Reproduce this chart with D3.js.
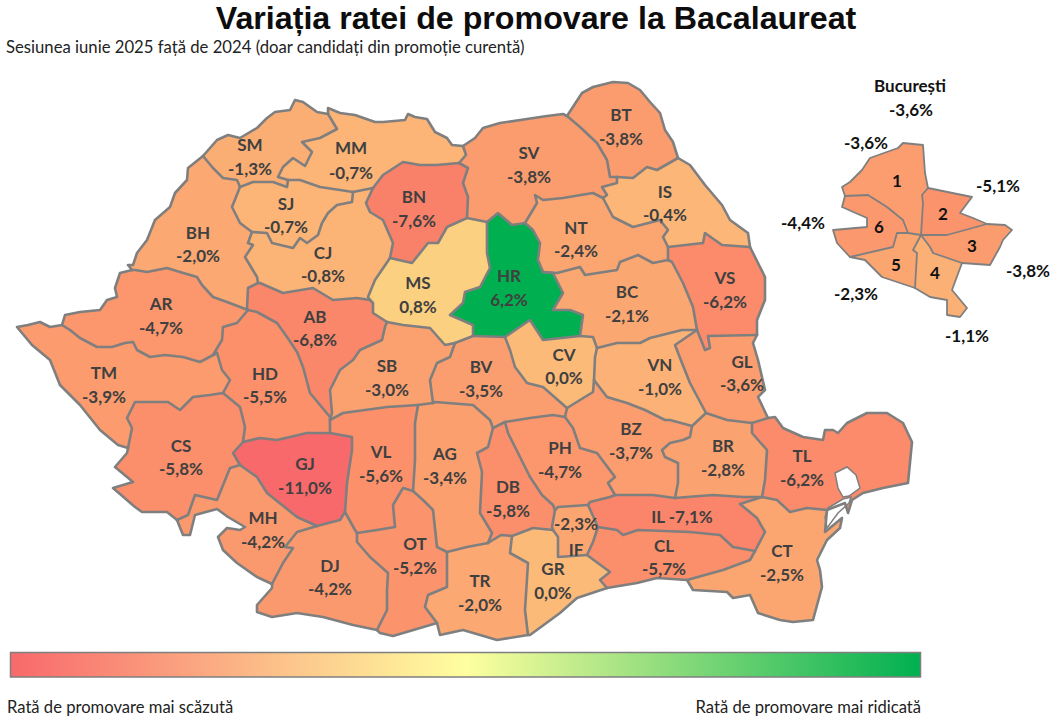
<!DOCTYPE html>
<html lang="ro">
<head>
<meta charset="utf-8">
<title>Variația ratei de promovare la Bacalaureat</title>
<script src="https://cdn.jsdelivr.net/npm/d3@7"></script>
<style>
  html, body { margin: 0; padding: 0; background: #fff; }
  svg { display: block; }
  text { font-family: Lato, "Open Sans", sans-serif; }
</style>
</head>
<body>
<svg id="chart" width="1058" height="723"></svg>
<script>
// valorile judetelor (variatie in puncte procentuale)
const countyCodes = ["SM","MM","BN","SV","BT","IS","NT","SJ","CJ","BH","AR","AB","MS","HR","VS","BC","SB","BV","CV","VN","GL","TM","HD","CS","GJ","VL","AG","PH","DB","BZ","BR","TL","MH","DJ","OT","TR","GR","IF","IL","CL","CT"];
const countyValues = [-1.3,-0.7,-7.6,-3.8,-3.8,-0.4,-2.4,-0.7,-0.8,-2.0,-4.7,-6.8,0.8,6.2,-6.2,-2.1,-3.0,-3.5,0.0,-1.0,-3.6,-3.9,-5.5,-5.8,-11.0,-5.6,-3.4,-4.7,-5.8,-3.7,-2.8,-6.2,-4.2,-4.2,-5.2,-2.0,0.0,-2.3,-7.1,-5.7,-2.5];

// sectoarele Bucurestiului
const sectorNames = ["1","2","3","4","5","6"];
const sectorValues = [-3.6,-5.1,-3.8,-1.1,-2.3,-4.4];
const bucharestValue = -3.6;

// scala de culori (citita din harta)
const colorDomain = [-11,-7.6,-5,-2,0,0.8,3,6.2];
const colorRange = ["#f8696b","#fa8169","#fb946c","#fba872","#fcba79","#fbd081","#a8d080","#00b050"];

// texte
const titleText = "Variația ratei de promovare la Bacalaureat";
const subtitleText = "Sesiunea iunie 2025 față de 2024 (doar candidați din promoție curentă)";
const legendLow = "Rată de promovare mai scăzută";
const legendHigh = "Rată de promovare mai ridicată";

// granite comune (trasate dupa imagine), ca intr-o topologie
const arcs = {
  SM_out: [[203,156],[217,140],[228,135],[240,138],[257,128],[267,118],[275,112],[290,110],[295,100],[303,102],[317,112],[328,114]],
  SM_MM: [[328,114],[337,129],[320,138],[302,142],[312,152],[305,166],[293,158],[283,167],[278,177],[288,180]],
  SM_SJ: [[288,180],[287,187],[273,182],[253,182],[240,187]],
  SM_BH: [[240,187],[237,180],[223,178],[213,168],[203,156]],
  MM_out: [[328,114],[328,108],[340,113],[355,115],[375,122],[383,122],[405,120],[408,114],[415,117],[427,119],[435,132],[447,138],[452,145],[463,146]],
  MM_SV: [[463,146],[466,155],[459,163]],
  MM_BN: [[459,163],[437,165],[420,165],[403,162],[383,175],[373,188]],
  MM_CJ: [[373,188],[353,192]],
  MM_SJ: [[288,180],[300,180],[320,187],[340,190],[353,192]],
  BN_SV: [[459,163],[468,168],[463,183],[468,197],[467,218]],
  BN_MS: [[467,218],[447,227],[438,243],[428,243],[412,263],[390,258]],
  BN_CJ: [[390,258],[393,243],[383,220],[370,212],[366,203],[373,188]],
  SJ_CJ: [[353,192],[352,202],[337,205],[328,213],[322,223],[318,235],[307,243],[300,238],[293,248],[272,243],[267,233],[252,232]],
  SJ_BH: [[252,232],[240,223],[232,207],[240,187]],
  CJ_MS: [[390,258],[375,280],[368,297],[370,300]],
  AB_CJ: [[370,300],[357,298],[333,300],[313,288],[283,293],[260,283],[258,283]],
  BH_CJ: [[258,283],[257,277],[245,257],[253,245],[248,243],[252,232]],
  AB_BH: [[258,283],[248,288],[247,308],[248,310]],
  AR_BH: [[248,310],[227,302],[213,297],[202,285],[197,277],[180,272],[167,268],[147,272],[135,270],[132,270]],
  BH_out: [[132,270],[128,265],[133,265],[137,253],[147,240],[155,220],[170,207],[175,193],[187,180],[188,168],[203,156]],
  AR_HD: [[248,310],[237,323],[223,327],[222,340],[213,355],[217,353]],
  AR_TM: [[217,353],[200,362],[183,357],[165,355],[150,357],[137,350],[133,342],[125,343],[112,347],[97,347],[80,338],[70,330],[62,325]],
  AR_out: [[62,325],[65,315],[80,312],[100,310],[107,300],[117,297],[115,288],[120,273],[132,270]],
  TM_HD: [[217,353],[222,370],[230,380],[223,393]],
  CS_TM: [[223,393],[210,395],[193,397],[180,410],[168,402],[150,402],[135,402],[127,418],[132,428],[128,448]],
  TM_out: [[128,448],[118,445],[100,430],[80,405],[60,385],[50,360],[32,345],[17,327],[28,325],[40,322],[50,327],[62,325]],
  AB_HD: [[248,310],[257,312],[277,323],[287,337],[297,352],[303,367],[310,393],[330,417],[330,420]],
  HD_VL: [[330,420],[330,433]],
  GJ_HD: [[330,433],[307,433],[277,440],[260,438],[243,442]],
  CS_HD: [[243,442],[245,427],[240,407],[223,393]],
  CS_GJ: [[243,442],[233,453],[240,465]],
  CS_MH: [[240,465],[230,468],[217,500],[195,495],[188,515],[177,520]],
  CS_out: [[177,520],[167,512],[142,512],[135,507],[113,488],[133,482],[115,467],[127,453],[128,448]],
  AB_MS: [[370,300],[373,303],[373,313],[387,322]],
  AB_SB: [[387,322],[385,327],[382,340],[360,350],[353,360],[340,370],[330,390],[332,413],[330,420]],
  MS_SV: [[467,218],[487,222]],
  HR_MS: [[487,222],[487,253],[490,268],[480,287],[465,292],[463,303],[450,315],[473,325],[473,336]],
  BV_MS: [[473,336],[455,343]],
  MS_SB: [[455,343],[445,345],[430,328],[403,325],[387,322]],
  HR_SV: [[487,222],[498,213],[512,225],[525,223]],
  HR_NT: [[525,223],[533,230],[540,243],[538,260],[543,272]],
  BC_HR: [[543,272],[553,273],[563,293],[553,310],[570,310],[583,315],[580,336]],
  CV_HR: [[580,336],[543,340],[530,320],[505,337]],
  BV_HR: [[505,337],[473,336]],
  SV_out: [[463,146],[475,138],[483,128],[500,123],[527,119],[547,116],[563,114],[567,116]],
  BT_SV: [[567,116],[580,127],[597,143],[607,160],[610,177],[617,177]],
  IS_SV: [[617,177],[617,183],[602,187],[607,195],[603,198]],
  NT_SV: [[603,198],[593,193],[563,198],[543,200],[535,195],[537,203],[525,223]],
  BT_out: [[567,116],[582,93],[593,87],[613,82],[628,83],[640,90],[650,102],[660,113],[665,130],[673,142],[678,158]],
  BT_IS: [[678,158],[657,170],[647,167],[633,178],[617,177]],
  IS_out: [[678,158],[690,165],[705,185],[722,205],[730,220],[748,233],[750,247]],
  IS_VS: [[750,247],[722,245],[705,233],[703,243],[668,247]],
  IS_NT: [[668,247],[663,237],[668,230],[660,220],[633,227],[613,217],[603,198]],
  NT_VS: [[668,247],[668,260]],
  BC_NT: [[668,260],[653,263],[638,255],[620,262],[617,270],[585,275],[580,267],[557,273],[543,272]],
  VS_out: [[750,247],[758,263],[765,277],[765,300],[757,320],[757,335]],
  GL_VS: [[757,335],[708,336],[710,348],[705,350],[703,345],[697,330]],
  BC_VS: [[697,330],[693,307],[683,283],[672,262],[668,260]],
  BC_VN: [[697,330],[682,330],[670,333],[650,338],[640,343],[617,343],[597,348]],
  BC_CV: [[597,348],[593,337],[580,336]],
  CV_VN: [[597,348],[595,357],[594,380]],
  BZ_CV: [[594,380],[593,392],[580,400],[567,408]],
  BV_CV: [[567,408],[543,387],[527,383],[515,367],[510,350],[505,337]],
  BV_BZ: [[567,408],[565,417]],
  BV_PH: [[565,417],[553,415],[530,418],[505,422]],
  BV_DB: [[505,422],[493,428]],
  AG_BV: [[493,428],[490,420],[473,405],[435,402],[433,403]],
  BV_SB: [[433,403],[430,380],[437,363],[450,357],[455,343]],
  AG_SB: [[433,403],[418,405]],
  SB_VL: [[418,405],[387,407],[343,413],[330,420]],
  GJ_VL: [[330,433],[352,437],[352,450],[347,483],[345,512]],
  DJ_VL: [[345,512],[355,530],[357,533]],
  OT_VL: [[357,533],[377,530],[395,527],[393,505],[403,488],[413,491]],
  AG_VL: [[413,491],[415,460],[415,423],[418,405]],
  AG_DB: [[493,428],[488,447],[477,453],[482,472],[480,513],[492,533],[488,543]],
  AG_TR: [[488,543],[467,547],[447,552]],
  AG_OT: [[447,552],[437,547],[433,510],[423,500],[413,491]],
  DJ_GJ: [[345,512],[340,520],[317,526]],
  GJ_MH: [[317,526],[297,517],[267,493],[257,477],[240,465]],
  DJ_MH: [[317,526],[297,532],[285,547],[293,548],[283,563],[272,584]],
  MH_out: [[272,584],[257,577],[237,563],[223,550],[218,537],[227,528],[240,530],[245,527],[228,517],[217,509],[195,515],[190,535],[183,535],[177,520]],
  DJ_OT: [[357,533],[357,542],[370,557],[388,573],[387,590],[387,610],[377,630]],
  DJ_out: [[377,630],[353,625],[323,617],[297,613],[272,617],[257,612],[257,605],[272,588],[272,584]],
  OT_TR: [[447,552],[447,587],[428,595],[425,607],[437,623]],
  OT_out: [[437,623],[393,636],[380,633],[377,630]],
  DB_TR: [[488,543],[501,535],[512,536]],
  GR_TR: [[512,536],[510,553],[528,563],[525,610],[528,635]],
  TR_out: [[528,635],[497,640],[463,630],[440,635],[437,623]],
  DB_PH: [[505,422],[508,433],[515,447],[530,477],[542,495],[553,505],[555,510]],
  DB_IF: [[555,510],[552,527],[553,530]],
  DB_GR: [[553,530],[533,528],[512,536]],
  BZ_PH: [[565,417],[573,428],[580,448],[597,453],[615,477],[608,483],[615,495]],
  IL_PH: [[615,495],[610,497],[590,502],[588,505]],
  IF_PH: [[588,505],[558,507],[555,510]],
  IF_IL: [[588,505],[598,527]],
  CL_IF: [[598,527],[593,542],[587,555]],
  GR_IF: [[587,555],[558,557],[558,537],[553,530]],
  CL_GR: [[587,555],[610,572],[600,580],[607,588]],
  GR_out: [[607,588],[577,598],[560,613],[530,635],[528,635]],
  BZ_VN: [[594,380],[607,397],[627,403],[645,410],[665,420],[670,420],[692,426]],
  BR_BZ: [[692,426],[690,437],[683,440],[670,443],[662,450],[665,457],[678,463],[678,483],[675,498]],
  BZ_IL: [[675,498],[653,495],[633,495],[615,495]],
  GL_VN: [[697,330],[675,345],[682,363],[690,383],[706,413]],
  BR_VN: [[706,413],[692,426]],
  GL_out: [[757,335],[753,343],[758,360],[765,390],[758,397],[768,418]],
  GL_TL: [[768,418],[752,423]],
  BR_GL: [[752,423],[727,420],[706,413]],
  BR_TL: [[752,423],[752,433],[767,450],[765,480],[762,497]],
  BR_IL: [[762,497],[743,497],[713,495],[687,497],[675,498]],
  TL_out: [[768,418],[775,417],[783,428],[803,437],[823,440],[825,430],[833,430],[838,433],[847,423],[867,413],[887,413],[903,423],[912,442],[908,483],[883,488],[863,493],[852,500],[848,513],[845,503],[827,510]],
  CT_TL: [[827,510],[807,508],[790,512],[777,500],[762,497]],
  CT_IL: [[762,497],[740,504],[757,518],[765,532],[755,551]],
  CL_IL: [[755,551],[733,547],[720,535],[690,532],[638,530],[623,535],[617,530],[598,527]],
  CL_CT: [[755,551],[750,560],[723,570],[687,580]],
  CL_out: [[687,580],[657,578],[637,583],[607,588]],
  CT_out: [[827,510],[825,532],[842,518],[840,528],[827,540],[817,560],[820,570],[822,587],[813,620],[793,622],[780,620],[758,613],[750,595],[733,598],[727,592],[693,590],[687,580]]
};

// inelele judetelor, ca liste de granite
const rings = {
  SM: ["SM_out","SM_MM","SM_SJ","SM_BH"],
  MM: ["MM_out","MM_SV","MM_BN","MM_CJ","MM_SJ","SM_MM"],
  BN: ["MM_BN","BN_SV","BN_MS","BN_CJ"],
  SJ: ["SM_SJ","MM_SJ","SJ_CJ","SJ_BH"],
  CJ: ["MM_CJ","BN_CJ","CJ_MS","AB_CJ","BH_CJ","SJ_CJ"],
  BH: ["SM_BH","SJ_BH","BH_CJ","AB_BH","AR_BH","BH_out"],
  AR: ["AR_BH","AR_HD","AR_TM","AR_out"],
  TM: ["AR_TM","TM_HD","CS_TM","TM_out"],
  HD: ["AR_HD","AB_HD","HD_VL","GJ_HD","CS_HD","TM_HD"],
  CS: ["CS_TM","CS_HD","CS_GJ","CS_MH","CS_out"],
  AB: ["AB_BH","AB_CJ","AB_MS","AB_SB","AB_HD"],
  MS: ["BN_MS","MS_SV","HR_MS","BV_MS","MS_SB","AB_MS","CJ_MS"],
  HR: ["HR_MS","HR_SV","HR_NT","BC_HR","CV_HR","BV_HR"],
  SV: ["MM_SV","SV_out","BT_SV","IS_SV","NT_SV","HR_SV","MS_SV","BN_SV"],
  BT: ["BT_out","BT_IS","BT_SV"],
  IS: ["BT_IS","IS_out","IS_VS","IS_NT","IS_SV"],
  NT: ["NT_SV","IS_NT","NT_VS","BC_NT","HR_NT"],
  VS: ["IS_VS","VS_out","GL_VS","BC_VS","NT_VS"],
  BC: ["BC_NT","BC_VS","BC_VN","BC_CV","BC_HR"],
  CV: ["BC_CV","CV_VN","BZ_CV","BV_CV","CV_HR"],
  BV: ["BV_MS","BV_HR","BV_CV","BV_BZ","BV_PH","BV_DB","AG_BV","BV_SB"],
  SB: ["MS_SB","BV_SB","AG_SB","SB_VL","AB_SB"],
  VL: ["SB_VL","HD_VL","GJ_VL","DJ_VL","OT_VL","AG_VL"],
  AG: ["AG_SB","AG_BV","AG_DB","AG_TR","AG_OT","AG_VL"],
  GJ: ["GJ_HD","GJ_VL","DJ_GJ","GJ_MH","CS_GJ"],
  MH: ["CS_MH","GJ_MH","DJ_MH","MH_out"],
  DJ: ["DJ_GJ","DJ_VL","DJ_OT","DJ_out","DJ_MH"],
  OT: ["OT_VL","AG_OT","OT_TR","OT_out","DJ_OT"],
  TR: ["AG_TR","DB_TR","GR_TR","TR_out","OT_TR"],
  DB: ["BV_DB","DB_PH","DB_IF","DB_GR","DB_TR","AG_DB"],
  PH: ["BV_PH","BZ_PH","IL_PH","IF_PH","DB_PH"],
  IF: ["IF_PH","IF_IL","CL_IF","GR_IF","DB_IF"],
  GR: ["GR_IF","CL_GR","GR_out","GR_TR","DB_GR"],
  BZ: ["BV_BZ","BZ_CV","BZ_VN","BR_BZ","BZ_IL","BZ_PH"],
  VN: ["CV_VN","BC_VN","GL_VN","BR_VN","BZ_VN"],
  GL: ["GL_VS","GL_out","GL_TL","BR_GL","GL_VN"],
  BR: ["BR_GL","BR_TL","BR_IL","BR_BZ","BR_VN"],
  TL: ["GL_TL","TL_out","CT_TL","BR_TL"],
  IL: ["BR_IL","CT_IL","CL_IL","IF_IL","IL_PH","BZ_IL"],
  CL: ["CL_IL","CL_CT","CL_out","CL_GR","CL_IF"],
  CT: ["CT_TL","CT_out","CL_CT","CT_IL"]
};

// Razim si Sinoe, goale pe harta
const lagoons = [
  [[835,473],[847,467],[856,475],[860,488],[849,496],[843,497],[838,488],[835,473]],
  [[828,508],[843,499],[851,497],[849,503],[838,513],[827,528],[825,517],[828,508]]
];

// granitele sectoarelor
const bucArcs = {
  s1_out: [[845,196],[842,187],[850,182],[862,170],[870,158],[898,148],[903,143],[923,145],[925,173],[928,188]],
  s1_s2: [[928,188],[922,195],[923,203],[921,235]],
  s1_s5: [[921,235],[908,233]],
  s1_s6: [[908,233],[903,220],[887,207],[868,195],[845,196]],
  s2_out: [[928,188],[972,197],[960,213],[973,218],[987,224]],
  s2_s3: [[987,224],[947,235],[921,235]],
  s3_out: [[987,224],[1005,225],[1012,230],[1003,240],[1000,247],[990,265],[962,263]],
  s3_s4: [[962,263],[933,253],[930,247],[921,235]],
  s4_out: [[962,263],[952,290],[967,308],[960,317],[947,315],[947,300],[930,297],[915,288]],
  s4_s5: [[915,288],[917,253],[913,250],[921,235]],
  s5_out: [[915,288],[882,277],[865,260],[850,257]],
  s5_s6: [[850,257],[893,247],[897,233],[908,233]],
  s6_out: [[850,257],[837,243],[833,230],[867,227],[867,218],[842,207],[845,196]]
};
const bucRings = {
  "1": ["s1_out","s1_s2","s1_s5","s1_s6"],
  "2": ["s2_out","s2_s3","s1_s2"],
  "3": ["s3_out","s3_s4","s2_s3"],
  "4": ["s4_out","s4_s5","s3_s4"],
  "5": ["s5_out","s5_s6","s1_s5","s4_s5"],
  "6": ["s6_out","s1_s6","s5_s6"]
};

// pozitia etichetelor: x, y cod, y valoare
const countyLabelAt = {
  SM:[250,144,168],MM:[351,147,172],BN:[414,196,220],SV:[529,152,176],BT:[621,114,138],IS:[665,191,214],NT:[576,227,250],
  SJ:[286,203,226],CJ:[323,252,275],BH:[198,232,255],AR:[161,303,327],AB:[315,316,339],MS:[418,282,306],HR:[509,275,299],
  VS:[725,277,301],BC:[627,291,315],SB:[387,365,389],BV:[481,366,390],CV:[564,354,377],VN:[660,364,388],GL:[742,361,384],
  TM:[104,372,396],HD:[265,373,396],CS:[181,445,468],GJ:[305,463,487],VL:[381,451,475],AG:[445,453,477],PH:[560,447,471],
  DB:[508,486,510],BZ:[631,428,452],BR:[723,445,469],TL:[802,455,479],MH:[263,517,541],DJ:[330,565,588],OT:[415,543,567],
  TR:[480,580,604],GR:[553,568,592],IF:[576,549,523],CL:[664,545,568],CT:[782,550,574]
};
const sectorNumberAt = [[897,180],[943,213],[972,245],[935,272],[896,264],[879,226]];
const sectorValueAt = [[866,142],[998,185],[1028,270],[967,335],[856,293],[803,222]];

const svg = d3.select("#chart");
const path = d3.geoPath(d3.geoIdentity());
const color = d3.scaleLinear().domain(colorDomain).range(colorRange);
const fmt = v => d3.format(".1f")(v).replace(".", ",").replace("−", "-") + "%";

// leaga granitele intr-un inel inchis, intorcandu-le unde e nevoie
function buildRing(names, source) {
  const dist = (a, b) => Math.hypot(a[0] - b[0], a[1] - b[1]);
  let first = source[names[0]];
  const next = source[names[1]];
  const endDist = Math.min(dist(first[first.length - 1], next[0]), dist(first[first.length - 1], next[next.length - 1]));
  const startDist = Math.min(dist(first[0], next[0]), dist(first[0], next[next.length - 1]));
  let pts = endDist <= startDist ? first.slice() : first.slice().reverse();
  names.slice(1).forEach(n => {
    const a = source[n];
    const end = pts[pts.length - 1];
    const seg = dist(end, a[0]) <= dist(end, a[a.length - 1]) ? a : a.slice().reverse();
    if (dist(end, seg[0]) > 1) console.log("Granita nelegata:", n, end, seg[0]);
    pts = pts.concat(seg.slice(1));
  });
  if (dist(pts[0], pts[pts.length - 1]) > 1) console.log("Inel deschis:", names);
  pts[pts.length - 1] = pts[0];
  return pts;
}

function polygon(ring) {
  return { type: "Polygon", coordinates: [ring] };
}
function line(pts) {
  return { type: "LineString", coordinates: pts };
}

// judetele
const counties = countyCodes.map((code, i) => ({ code, value: countyValues[i], ring: buildRing(rings[code], arcs) }));

svg.append("g").selectAll("path")
  .data(counties)
  .join("path")
  .attr("d", d => path(polygon(d.ring)))
  .attr("fill", d => color(d.value));

svg.append("g").selectAll("path")
  .data(lagoons)
  .join("path")
  .attr("d", d => path(polygon(d)))
  .attr("fill", "#fff")
  .attr("stroke", "#7f7f7f")
  .attr("stroke-width", 1.5);

svg.append("g").selectAll("path")
  .data(Object.values(arcs))
  .join("path")
  .attr("d", d => path(line(d)))
  .attr("fill", "none")
  .attr("stroke", "#7f7f7f")
  .attr("stroke-width", 2.6)
  .attr("stroke-linejoin", "round")
  .attr("stroke-linecap", "round");

// etichete judete
const labels = svg.append("g")
  .attr("font-weight", 700)
  .attr("font-size", 17)
  .attr("fill", "#404040")
  .attr("text-anchor", "middle")
  .attr("dominant-baseline", "central");

counties.filter(d => d.code !== "IL").forEach(d => {
  const [x, y1, y2] = countyLabelAt[d.code];
  labels.append("text").attr("x", x).attr("y", y1).text(d.code);
  labels.append("text").attr("x", x).attr("y", y2).text(fmt(d.value));
});
const il = counties.find(d => d.code === "IL");
labels.append("text").attr("x", 682).attr("y", 516).text(`IL ${fmt(il.value)}`);

// Bucuresti
const sectors = sectorNames.map((name, i) => ({ name, value: sectorValues[i], ring: buildRing(bucRings[name], bucArcs) }));

svg.append("g").selectAll("path")
  .data(sectors)
  .join("path")
  .attr("d", d => path(polygon(d.ring)))
  .attr("fill", d => color(d.value));

svg.append("g").selectAll("path")
  .data(Object.values(bucArcs))
  .join("path")
  .attr("d", d => path(line(d)))
  .attr("fill", "none")
  .attr("stroke", "#7f7f7f")
  .attr("stroke-width", 1.8)
  .attr("stroke-linejoin", "round")
  .attr("stroke-linecap", "round");

const bucLabels = svg.append("g")
  .attr("font-weight", 700)
  .attr("font-size", 17)
  .attr("fill", "#111")
  .attr("text-anchor", "middle")
  .attr("dominant-baseline", "central");

bucLabels.append("text").attr("x", 910).attr("y", 85).text("București");
bucLabels.append("text").attr("x", 911).attr("y", 109).text(fmt(bucharestValue));
sectors.forEach((d, i) => {
  bucLabels.append("text").attr("x", sectorNumberAt[i][0]).attr("y", sectorNumberAt[i][1]).text(d.name);
  bucLabels.append("text").attr("x", sectorValueAt[i][0]).attr("y", sectorValueAt[i][1]).text(fmt(d.value));
});

// titlu
svg.append("text")
  .attr("x", 536).attr("y", 29)
  .attr("text-anchor", "middle")
  .style("font-family", '"Liberation Sans", Arial, sans-serif')
  .attr("font-weight", 700)
  .attr("font-size", 32.2)
  .attr("fill", "#0d0d0d")
  .text(titleText);

svg.append("text")
  .attr("x", 6).attr("y", 53)
  .attr("font-size", 16.7)
  .attr("fill", "#222")
  .text(subtitleText);

// legenda
const grad = svg.append("defs").append("linearGradient").attr("id", "legendGrad");
grad.selectAll("stop")
  .data([["0%", "#f8696b"], ["50%", "#ffff9f"], ["100%", "#00b050"]])
  .join("stop")
  .attr("offset", d => d[0])
  .attr("stop-color", d => d[1]);

svg.append("rect")
  .attr("x", 10.5).attr("y", 652.5)
  .attr("width", 910).attr("height", 24.5)
  .attr("fill", "url(#legendGrad)")
  .attr("stroke", "#7f7f7f")
  .attr("stroke-width", 1.5);

svg.append("text")
  .attr("x", 7).attr("y", 713)
  .attr("font-size", 16.6)
  .attr("fill", "#222")
  .text(legendLow);

svg.append("text")
  .attr("x", 921).attr("y", 713)
  .attr("text-anchor", "end")
  .attr("font-size", 16.6)
  .attr("fill", "#222")
  .text(legendHigh);
</script>
</body>
</html>
